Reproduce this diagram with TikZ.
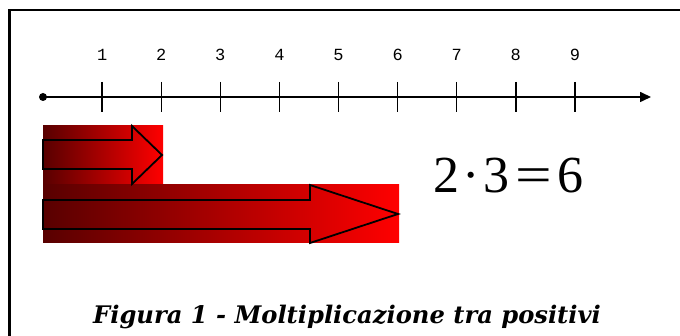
\documentclass[tikz,border=0pt]{standalone}
\usepackage{fontspec}
\setmainfont{Liberation Serif}
\newfontfamily\monofont{Liberation Mono}
\newfontfamily\capfont{DejaVu Serif}
\newfontfamily\eqfont{Liberation Serif}
\usetikzlibrary{arrows.meta, positioning}
\definecolor{deepred}{RGB}{88, 0, 0}
\definecolor{brightred}{RGB}{255, 0, 0}
\tikzset{
    frameline/.style={line width=2.4pt, black},
    numline/.style={-{Triangle[length=11pt, width=10pt]}, line width=1.6pt},
    tickmark/.style={line width=1.4pt},
    ticklbl/.style={font=\monofont\fontsize{17}{17}\selectfont, inner sep=0pt},
    redband/.style={left color=deepred, right color=brightred},
    blockarrow/.style={draw=black, line width=1.8pt, line join=miter}
}
\begin{document}
\begin{tikzpicture}[x=1pt, y=-1pt]
    \useasboundingbox (0,0) rectangle (680,336);
    % cornice
    \draw [frameline] (9.5,336) -- (9.5,10) -- (680,10);

    % retta dei numeri
    \coordinate (zero) at (43,97);
    \coordinate (fine) at (651,97);
    \draw [numline] (zero) -- (fine);
    \fill (zero) circle (4);
    \foreach \n in {1,...,9} {
        \draw [tickmark] (43+59.1*\n,82) -- (43+59.1*\n,112);
        \node (lbl\n) [ticklbl] at (43+59.1*\n,55) {\n};
    }

    % frecce
    \shade [redband] (43,126) rectangle (163,185);
    \shade [redband] (43,185) rectangle (399,243);
    \draw [blockarrow] (43,140) -- (132,140) -- (132,126) -- (162,155) -- (132,184) -- (132,169) -- (43,169) -- cycle;
    \draw [blockarrow] (43,200) -- (310,200) -- (310,185) -- (398,214) -- (310,243) -- (310,229) -- (43,229) -- cycle;

    % prodotto
    \node (prodotto) [anchor=base west, inner sep=0pt] at (433,193)
        {\eqfont\fontsize{52}{52}\selectfont 2\kern3pt·\kern4pt3\kern6pt\scalebox{1.25}[1]{=}\kern5pt6};

    % didascalia
    \node (didascalia) at (347,317) {\capfont\bfseries\itshape\fontsize{24.2}{24.2}\selectfont Figura 1 - Moltiplicazione tra positivi};
\end{tikzpicture}
\end{document}
